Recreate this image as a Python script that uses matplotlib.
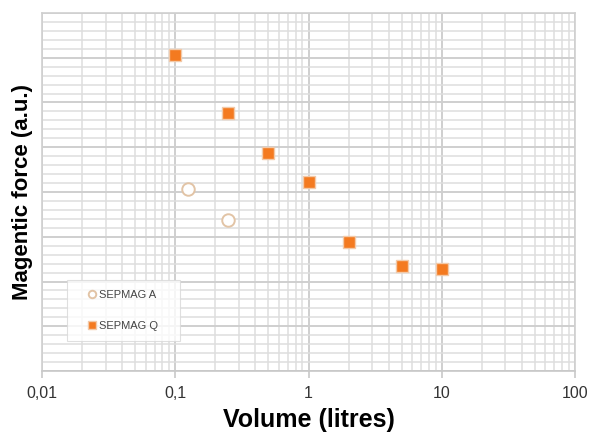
import matplotlib
matplotlib.use("Agg")
import matplotlib.pyplot as plt
from matplotlib.ticker import FixedLocator, LogLocator, MultipleLocator, NullFormatter

plt.rcParams['font.family'] = ['Liberation Sans', 'DejaVu Sans']

# Data (volume in litres, magnetic force in arbitrary units)
vol_a = [0.125, 0.25]
force_a = [20.3, 16.9]
vol_q = [0.1, 0.25, 0.5, 1, 2, 5, 10]
force_q = [35.3, 28.8, 24.4, 21.1, 14.4, 11.7, 11.4]
xtick_vals = [0.01, 0.1, 1, 10, 100]
xtick_labels = ["0,01", "0,1", "1", "10", "100"]

fig = plt.figure(figsize=(5.9, 4.32), dpi=100)
ax = fig.add_axes([42/590, 1-371/432, (575-42)/590, (371-13)/432])

ax.set_xscale('log')
ax.set_xlim(0.01, 100)
ax.set_ylim(0, 40)

ax.xaxis.set_major_locator(FixedLocator(xtick_vals))
ax.set_xticklabels(xtick_labels)
ax.xaxis.set_minor_locator(LogLocator(base=10, subs=range(2, 10)))
ax.xaxis.set_minor_formatter(NullFormatter())
ax.yaxis.set_major_locator(MultipleLocator(5))
ax.yaxis.set_minor_locator(MultipleLocator(1))
ax.yaxis.set_major_formatter(NullFormatter())

ax.grid(True, which='major', color='#cfcfcf', linewidth=1.4)
ax.grid(True, which='minor', color='#dedede', linewidth=1.1)
ax.set_axisbelow(True)

for s in ax.spines.values():
    s.set_color('#d0d0d0')
    s.set_linewidth(1.2)
ax.spines['bottom'].set_color('#c8c8c8')

ax.tick_params(axis='x', which='major', length=5, color='#c8c8c8', width=1.2,
               labelsize=11.5, labelcolor='#333333', pad=6)
ax.tick_params(axis='x', which='minor', length=0)
ax.tick_params(axis='y', which='both', length=0)

ax.plot(vol_a, force_a, linestyle='none', marker='o', markersize=9,
        markerfacecolor='white', markeredgecolor='#e2c4a6', markeredgewidth=1.4,
        label='SEPMAG A', zorder=3)
ax.plot(vol_q, force_q, linestyle='none', marker='s', markersize=8.5,
        markerfacecolor='#f47a20', markeredgecolor='#f2c9a8', markeredgewidth=1.0,
        label='SEPMAG Q', zorder=3)

leg = ax.legend(loc='lower left', bbox_to_anchor=((67-42)/533, (371-341)/358, (180-67)/533, (341-278)/358),
                mode='expand', fontsize=8, markerscale=0.6, handlelength=2.7,
                handletextpad=-0.75, labelspacing=1.9, borderpad=0.9, frameon=True,
                fancybox=False, labelcolor='#444444', borderaxespad=0)
leg.get_frame().set_edgecolor('#d8d8d8')
leg.get_frame().set_linewidth(0.8)

ax.set_xlabel('Volume (litres)', fontsize=18, fontweight='bold', labelpad=5)
ax.set_ylabel('Magentic force (a.u.)', fontsize=16, fontweight='bold', labelpad=3)

fig.savefig('out.png', dpi=100)
